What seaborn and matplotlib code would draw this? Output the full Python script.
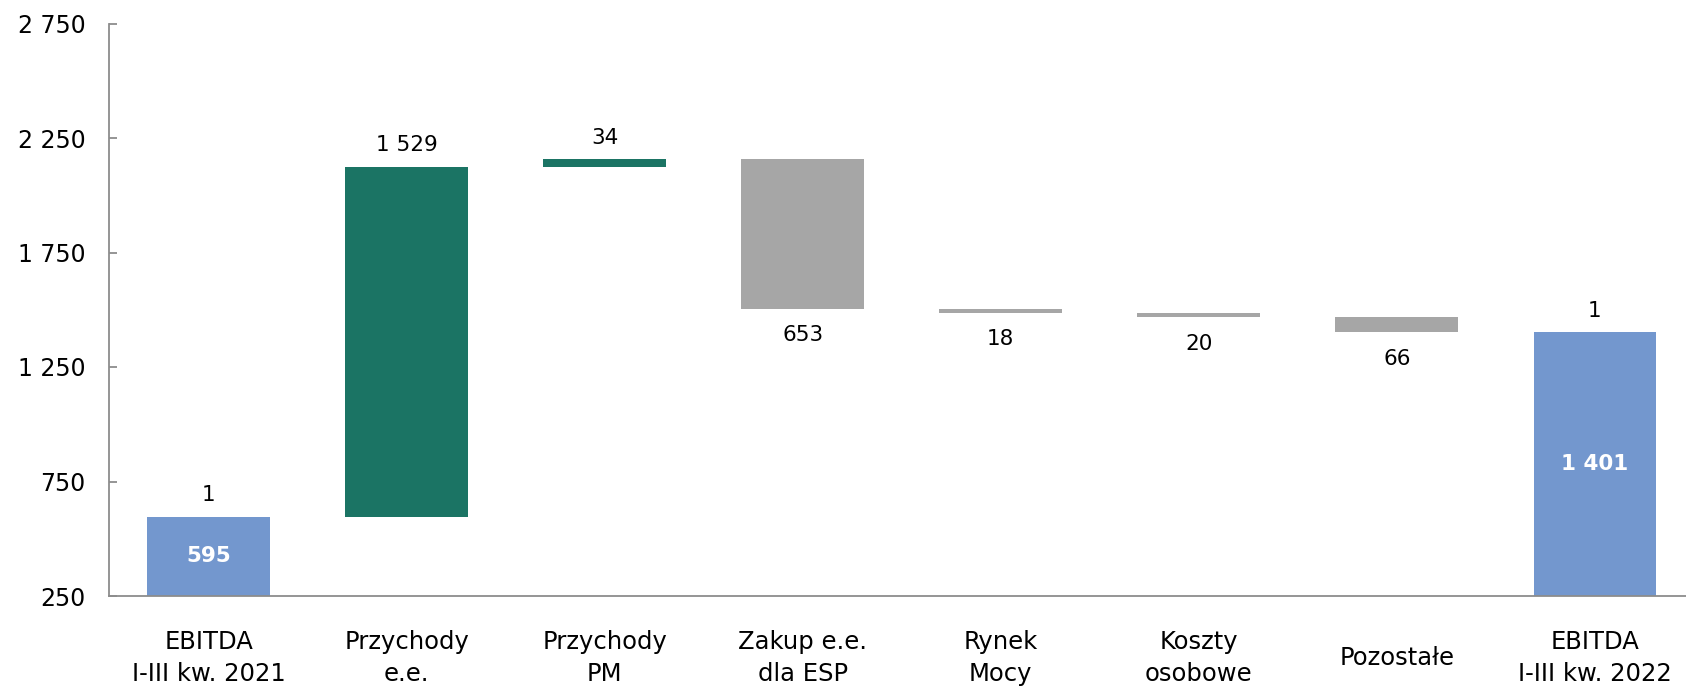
import numpy as np
import matplotlib
matplotlib.use("Agg")
import matplotlib.pyplot as plt
import seaborn as sns
from matplotlib.ticker import FuncFormatter

# Dane wykresu (mln zł)
categories = ["EBITDA\nI-III kw. 2021", "Przychody\ne.e.", "Przychody\nPM",
              "Zakup e.e.\ndla ESP", "Rynek\nMocy", "Koszty\nosobowe",
              "Pozostałe", "EBITDA\nI-III kw. 2022"]
changes = [595, 1529, 34, -653, -18, -20, -66, 1401]
kinds = ["total", "up", "up", "down", "down", "down", "down", "total"]
outer_labels = ["1", "1 529", "34", "653", "18", "20", "66", "1"]
inner_labels = {0: "595", 7: "1 401"}
y_ticks = [250, 750, 1250, 1750, 2250, 2750]

colors = {"total": "#7397CE", "up": "#1B7464", "down": "#A6A6A6"}

# waterfall: dolna krawedz i wysokosc slupkow
bottoms, heights = [], []
level = 0
for ch, k in zip(changes, kinds):
    if k == "total":
        bottoms.append(0)
        heights.append(ch)
        level = ch
    else:
        new = level + ch
        bottoms.append(min(level, new))
        heights.append(abs(ch))
        level = new

sns.set_style("white")
plt.rcParams["font.family"] = ["DejaVu Sans"]
plt.rcParams["text.color"] = "black"
plt.rcParams["xtick.color"] = "black"
plt.rcParams["ytick.color"] = "black"

fig = plt.figure(figsize=(16.86, 6.87), dpi=100)
ax = fig.add_axes([109 / 1686, 1 - 596 / 687, 1 - 109 / 1686, (596 - 23.5) / 687])

sns.barplot(x=categories, y=heights, bottom=bottoms, color="#A6A6A6",
            width=0.62, ax=ax, linewidth=0)

for patch, k in zip(ax.patches, kinds):
    patch.set_facecolor(colors[k])
    patch.set_edgecolor(colors[k])

ax.set_ylim(250, 2750)
ax.set_xlim(-0.503, 7.46)
ax.set_yticks(y_ticks)
ax.yaxis.set_major_formatter(FuncFormatter(lambda v, p: f"{v:,.0f}".replace(",", " ")))

# etykiety wartosci
for i, (b, h, k) in enumerate(zip(bottoms, heights, kinds)):
    if k == "down":
        ax.annotate(outer_labels[i], (i, b), xytext=(0, -19), textcoords="offset points",
                    ha="center", va="center", fontsize=15.5, color="black")
    else:
        ax.annotate(outer_labels[i], (i, b + h), xytext=(0, 15.5), textcoords="offset points",
                    ha="center", va="center", fontsize=15.5, color="black")
    if i in inner_labels:
        ax.text(i, (max(b, 250) + b + h) / 2, inner_labels[i], ha="center", va="center",
                fontsize=15.5, fontweight="bold", color="white")

for s in ["top", "right"]:
    ax.spines[s].set_visible(False)
for s in ["left", "bottom"]:
    ax.spines[s].set_color("#8C8C8C")
    ax.spines[s].set_linewidth(1.3)

ax.tick_params(axis="y", direction="in", length=6, width=1.3, color="#8C8C8C",
               labelcolor="black", labelsize=17, pad=17, left=True)
ax.tick_params(axis="x", length=0, labelsize=17.5, labelcolor="black", pad=44.5)
for lab in ax.get_xticklabels():
    lab.set_verticalalignment("center")
    lab.set_linespacing(1.4)
ax.set_xlabel("")
ax.set_ylabel("")

fig.savefig("out.png", dpi=100)
